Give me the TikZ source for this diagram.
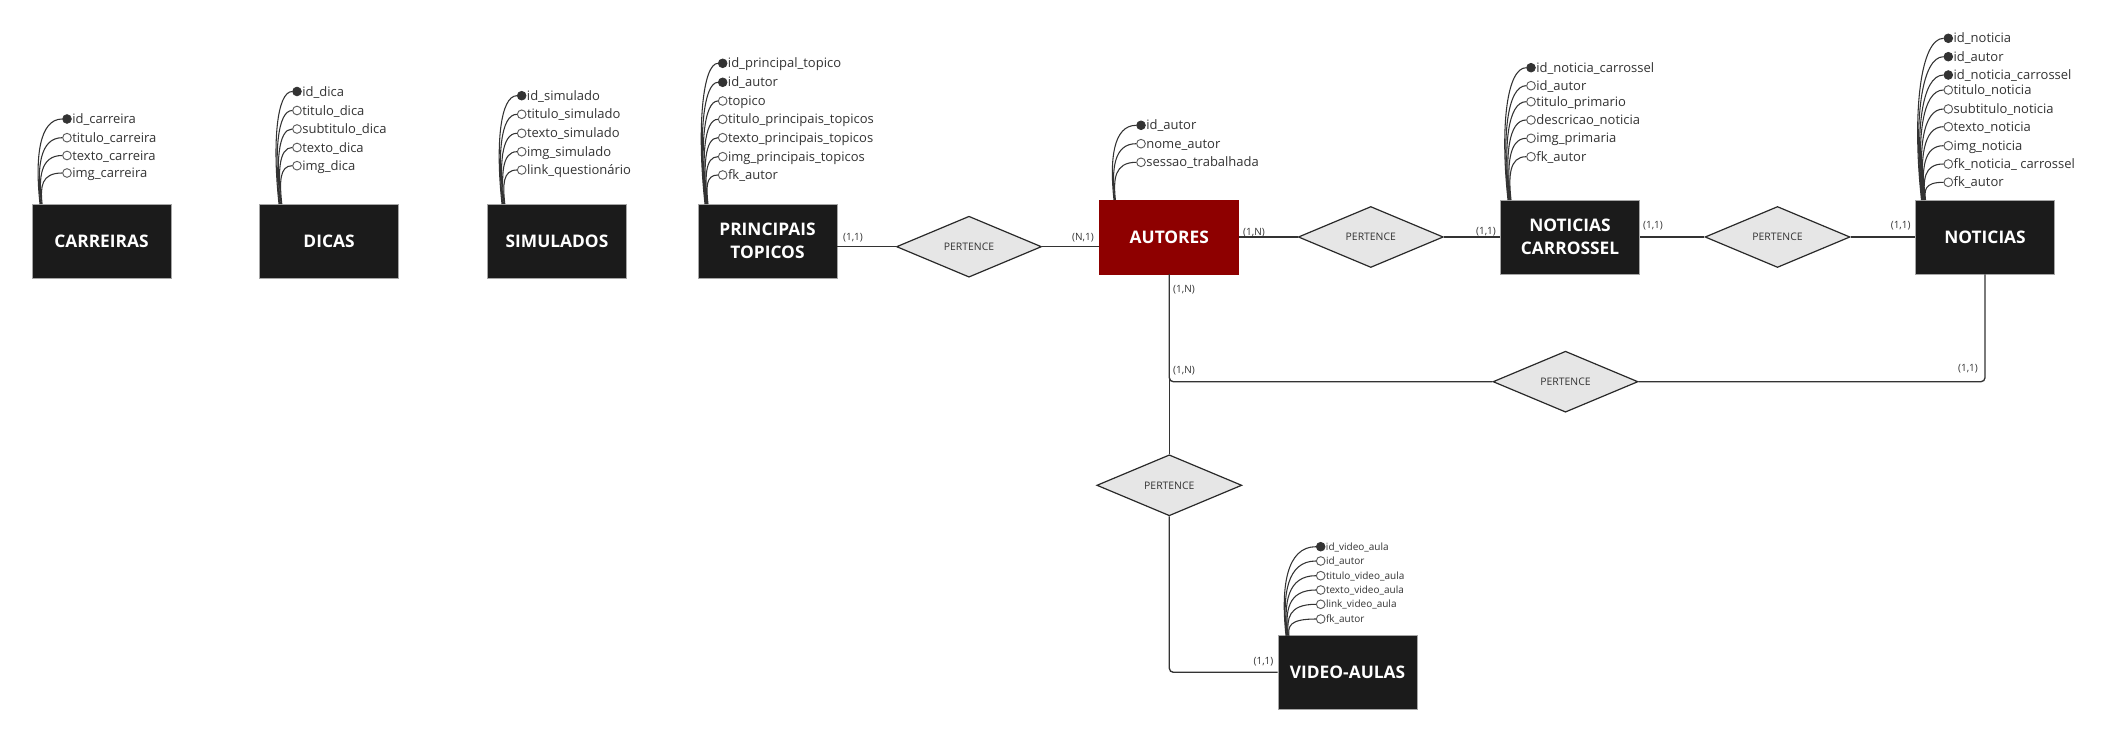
\documentclass[tikz,border=0pt]{standalone}
\usepackage{fontspec}
\setmainfont{Open Sans}
\usetikzlibrary{shapes.geometric,calc}
\definecolor{entfill}{HTML}{1B1B1B}
\definecolor{autfill}{HTML}{8E0000}
\definecolor{relfill}{HTML}{E6E6E6}
\definecolor{ink}{HTML}{333333}
\tikzset{
 entity/.style={rectangle, fill=entfill, draw=gray!70, line width=0.5pt, minimum width=104.25pt, minimum height=55.5pt, inner sep=0pt, text=white, align=center, font=\fontsize{13}{17.4}\selectfont\bfseries},
 rel/.style={diamond, fill=relfill, draw=ink!80!black, line width=0.9pt, minimum width=108.75pt, minimum height=45.75pt, inner sep=0pt, font=\fontsize{7.8}{9}\selectfont, text=ink},
 card/.style={font=\fontsize{7.5}{9}\selectfont, text=ink, inner sep=0pt},
 link/.style={draw=ink, line width=1pt},
 keyc/.style={circle, fill=ink, draw=ink, line width=0.6pt, minimum size=6.5pt, inner sep=0pt},
 attc/.style={circle, fill=white, draw=ink!80, line width=0.7pt, minimum size=6.5pt, inner sep=0pt},
 attline/.style={draw=ink, line width=0.8pt},
 attrtext/.style={font=\fontsize{9.75}{11}\selectfont, text=ink, inner sep=0pt, anchor=base west, xshift=0.2pt, yshift=-3.45pt},
 attrsmall/.style={font=\fontsize{7.5}{9}\selectfont, text=ink, inner sep=0pt, anchor=base west, xshift=0.2pt, yshift=-2.7pt},
}
\newcommand\attrib[8]{%
  \node[#6] (#1) at (#4,#5) {};
  \node[#7] (#1t) at (#1.east) {#8};
  \coordinate (#1s) at (#2,#3);
  \pgfmathsetmacro\attrH{#3-#5}%
  \pgfmathsetmacro\attrD{#4-#2}%
  \draw[attline] (#1s) .. controls ($(#1s)+(-0.06*\attrH,-0.55*\attrH)$) and ($(#1.west)+(-0.85*\attrD,0)$) .. (#1.west);
}
\begin{document}
\begin{tikzpicture}[x=0.75pt,y=-0.75pt]
\path[use as bounding box, fill=white] (0,0) rectangle (2107,741);
% entities
\node[entity] (car) at (101.5,241) {CARREIRAS};
\node[entity] (dic) at (329,241) {DICAS};
\node[entity] (sim) at (557,241) {SIMULADOS};
\node[entity] (pt) at (767.5,241) {PRINCIPAIS\\TOPICOS};
\node[entity, fill=autfill, draw=autfill] (aut) at (1169.3,237) {AUTORES};
\node[entity] (nc) at (1570,237) {NOTICIAS\\CARROSSEL};
\node[entity] (noti) at (1985,237) {NOTICIAS};
\node[entity] (va) at (1347.5,672.3) {VIDEO-AULAS};
% relationships
\node[rel] (r1) at (969,246.7) {PERTENCE};
\node[rel] (r2) at (1370.8,237) {PERTENCE};
\node[rel] (r3) at (1777.5,237) {PERTENCE};
\node[rel] (r4) at (1565.5,381.7) {PERTENCE};
\node[rel] (r5) at (1169.3,485.3) {PERTENCE};
% connectors
\draw[link] (r1.west -| pt.east) -- (r1.west);
\draw[link] (r1.east) -- (r1.east -| aut.west);
\draw[link] (aut.east) -- (r2.west);
\draw[link] (r2.east) -- (nc.west);
\draw[link] (nc.east) -- (r3.west);
\draw[link] (r3.east) -- (noti.west);
\draw[link] (aut.south) -- (r5.north);
\draw[link, rounded corners=3pt] (r5.south) |- (va.west);
\draw[link, rounded corners=3pt] (r4.west) -| (aut.south);
\draw[link, rounded corners=3pt] (r4.east) -| (noti.south);
% cardinalities
\node[card] (k1) at (853,238) {(1,1)};
\node[card] (k2) at (1083,238) {(N,1)};
\node[card] (k3) at (1254,233) {(1,N)};
\node[card] (k4) at (1486,232) {(1,1)};
\node[card] (k5) at (1653,225.7) {(1,1)};
\node[card] (k6) at (1900.7,225.7) {(1,1)};
\node[card] (k7) at (1184,290) {(1,N)};
\node[card] (k8) at (1184,371) {(1,N)};
\node[card] (k9) at (1968,369) {(1,1)};
\node[card] (k10) at (1263.5,661.7) {(1,1)};
% attributes CARREIRAS
\attrib{car1}{40}{204}{67}{119}{keyc}{attrtext}{id\_carreira}
\attrib{car2}{40.7}{204}{67}{137.7}{attc}{attrtext}{titulo\_carreira}
\attrib{car3}{41.4}{204}{67}{155.5}{attc}{attrtext}{texto\_carreira}
\attrib{car4}{42.1}{204}{67}{173}{attc}{attrtext}{img\_carreira}
% DICAS
\attrib{dic1}{279}{204}{297}{91.5}{keyc}{attrtext}{id\_dica}
\attrib{dic2}{279.7}{204}{297}{110.5}{attc}{attrtext}{titulo\_dica}
\attrib{dic3}{280.4}{204}{297}{129}{attc}{attrtext}{subtitulo\_dica}
\attrib{dic4}{281.1}{204}{297}{147.5}{attc}{attrtext}{texto\_dica}
\attrib{dic5}{281.8}{204}{297}{165.7}{attc}{attrtext}{img\_dica}
% SIMULADOS
\attrib{sim1}{502}{204}{521.7}{95.7}{keyc}{attrtext}{id\_simulado}
\attrib{sim2}{502.7}{204}{521.7}{114.3}{attc}{attrtext}{titulo\_simulado}
\attrib{sim3}{503.4}{204}{521.7}{133.3}{attc}{attrtext}{texto\_simulado}
\attrib{sim4}{504.1}{204}{521.7}{151.7}{attc}{attrtext}{img\_simulado}
\attrib{sim5}{504.8}{204}{521.7}{170}{attc}{attrtext}{link\_questionário}
% PRINCIPAIS TOPICOS
\attrib{pt1}{705}{204}{722.7}{63.3}{keyc}{attrtext}{id\_principal\_topico}
\attrib{pt2}{705.5}{204}{722.7}{82.3}{keyc}{attrtext}{id\_autor}
\attrib{pt3}{706}{204}{722.7}{101}{attc}{attrtext}{topico}
\attrib{pt4}{706.5}{204}{722.7}{119.3}{attc}{attrtext}{titulo\_principais\_topicos}
\attrib{pt5}{707}{204}{722.7}{137.7}{attc}{attrtext}{texto\_principais\_topicos}
\attrib{pt6}{707.5}{204}{722.7}{156.7}{attc}{attrtext}{img\_principais\_topicos}
\attrib{pt7}{708}{204}{722.7}{175}{attc}{attrtext}{fk\_autor}
% AUTORES
\attrib{aut1}{1114}{200}{1141}{125.3}{keyc}{attrtext}{id\_autor}
\attrib{aut2}{1114.7}{200}{1141}{143.7}{attc}{attrtext}{nome\_autor}
\attrib{aut3}{1115.4}{200}{1141}{162.3}{attc}{attrtext}{sessao\_trabalhada}
% NOTICIAS CARROSSEL
\attrib{nc1}{1508}{200}{1531}{67.7}{keyc}{attrtext}{id\_noticia\_carrossel}
\attrib{nc2}{1508.6}{200}{1531}{85.7}{attc}{attrtext}{id\_autor}
\attrib{nc3}{1509.2}{200}{1531}{101.7}{attc}{attrtext}{titulo\_primario}
\attrib{nc4}{1509.8}{200}{1531}{120}{attc}{attrtext}{descricao\_noticia}
\attrib{nc5}{1510.4}{200}{1531}{138.3}{attc}{attrtext}{img\_primaria}
\attrib{nc6}{1511}{200}{1531}{156.7}{attc}{attrtext}{fk\_autor}
% NOTICIAS
\attrib{no1}{1921.5}{200}{1948.3}{38.3}{keyc}{attrtext}{id\_noticia}
\attrib{no2}{1922}{200}{1948.3}{56.7}{keyc}{attrtext}{id\_autor}
\attrib{no3}{1922.5}{200}{1948.3}{75}{keyc}{attrtext}{id\_noticia\_carrossel}
\attrib{no4}{1923}{200}{1948.3}{90}{attc}{attrtext}{titulo\_noticia}
\attrib{no5}{1923.5}{200}{1948.3}{109}{attc}{attrtext}{subtitulo\_noticia}
\attrib{no6}{1924}{200}{1948.3}{126.7}{attc}{attrtext}{texto\_noticia}
\attrib{no7}{1924.5}{200}{1948.3}{145.7}{attc}{attrtext}{img\_noticia}
\attrib{no8}{1925}{200}{1948.3}{164}{attc}{attrtext}{fk\_noticia\_ carrossel}
\attrib{no9}{1925.5}{200}{1948.3}{182.3}{attc}{attrtext}{fk\_autor}
% VIDEO-AULAS
\attrib{va1}{1286}{635.7}{1320.7}{546.7}{keyc}{attrsmall}{id\_video\_aula}
\attrib{va2}{1286.6}{635.7}{1320.7}{561}{attc}{attrsmall}{id\_autor}
\attrib{va3}{1287.2}{635.7}{1320.7}{575.7}{attc}{attrsmall}{titulo\_video\_aula}
\attrib{va4}{1287.8}{635.7}{1320.7}{590}{attc}{attrsmall}{texto\_video\_aula}
\attrib{va5}{1288.4}{635.7}{1320.7}{604.3}{attc}{attrsmall}{link\_video\_aula}
\attrib{va6}{1289}{635.7}{1320.7}{619}{attc}{attrsmall}{fk\_autor}
\end{tikzpicture}
\end{document}
